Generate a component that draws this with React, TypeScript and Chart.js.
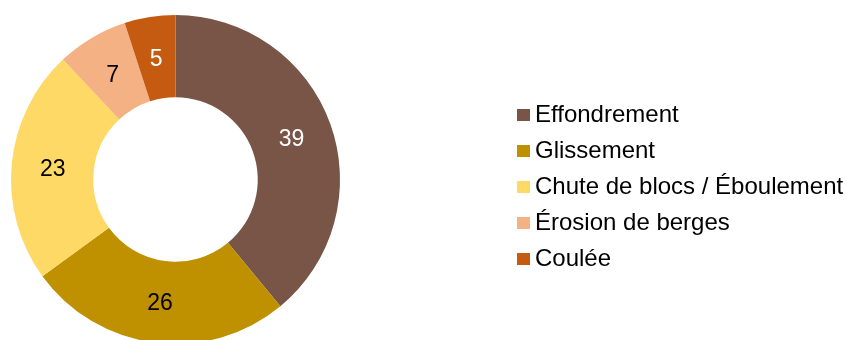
import React, { useEffect, useRef } from "react";
import { Chart, registerables } from "chart.js";

Chart.register(...registerables);

const categories = [
  "Effondrement",
  "Glissement",
  "Chute de blocs / Éboulement",
  "Érosion de berges",
  "Coulée",
];
const values = [39, 26, 23, 7, 5];
const colors = ["#795548", "#BF9000", "#FFD966", "#F4B183", "#C55A11"];
const labelColors = ["#FFFFFF", "#000000", "#000000", "#000000", "#FFFFFF"];

const FONT = "Arial, 'Liberation Sans', sans-serif";

const labelPlugin = {
  id: "sliceLabels",
  afterDatasetsDraw(chart: any) {
    const ctx = chart.ctx;
    const meta = chart.getDatasetMeta(0);
    ctx.save();
    ctx.font = `23px ${FONT}`;
    ctx.textAlign = "center";
    ctx.textBaseline = "middle";
    meta.data.forEach((arc: any, i: number) => {
      const p = arc.tooltipPosition();
      ctx.fillStyle = labelColors[i];
      ctx.fillText(String(values[i]), p.x, p.y + 2);
    });
    ctx.restore();
  },
};

const legendPlugin = {
  id: "customLegend",
  afterDraw(chart: any) {
    const ctx = chart.ctx;
    ctx.save();
    ctx.font = `24px ${FONT}`;
    ctx.textAlign = "left";
    ctx.textBaseline = "alphabetic";
    categories.forEach((c, i) => {
      const cy = 115 + i * 36;
      ctx.fillStyle = colors[i];
      ctx.fillRect(517, cy - 6, 13, 12);
      ctx.fillStyle = "#000000";
      ctx.fillText(c, 535, cy + 7);
    });
    ctx.restore();
  },
};

export default function App() {
  const ref = useRef<HTMLCanvasElement | null>(null);
  useEffect(() => {
    if (!ref.current) return;
    const chart = new Chart(ref.current, {
      type: "doughnut",
      data: {
        labels: categories,
        datasets: [
          {
            data: values,
            backgroundColor: colors,
            borderWidth: 0,
          },
        ],
      },
      options: {
        responsive: false,
        animation: false,
        cutout: "50%",
        layout: { padding: { left: 11, top: 15, right: 506, bottom: 16 } },
        plugins: {
          legend: { display: false },
          tooltip: { enabled: false },
        },
      },
      plugins: [labelPlugin, legendPlugin],
    });
    return () => chart.destroy();
  }, []);
  return (
    <div style={{ position: "fixed", left: 0, top: 0, width: 846, height: 340, overflow: "hidden", background: "#fff" }}>
      <canvas ref={ref} width={846} height={360} style={{ display: "block", width: 846, height: 360 }} />
    </div>
  );
}
